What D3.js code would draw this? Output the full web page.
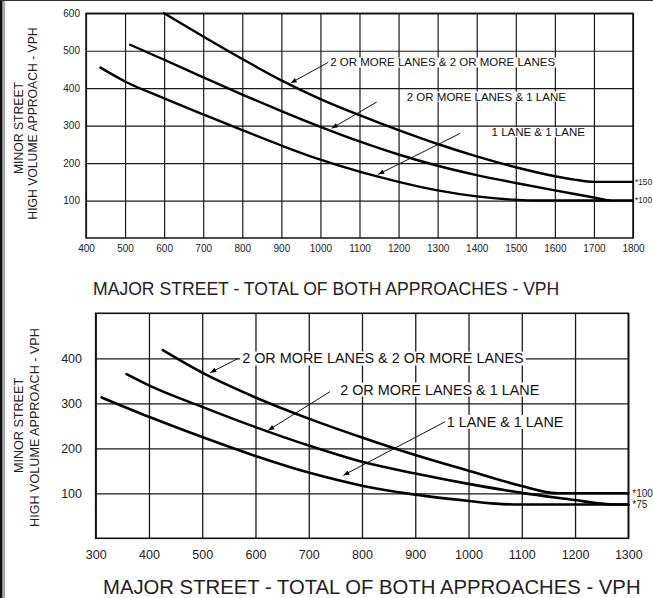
<!DOCTYPE html>
<html><head><meta charset="utf-8">
<script src="https://cdn.jsdelivr.net/npm/d3@7"></script>
<style>body{margin:0;background:#fff}svg{display:block}</style>
</head><body><svg id="c" width="653" height="598"></svg>
<script>
// ---------- DATA ----------
// Top chart (100% volumes)
const topTicksX = [400,500,600,700,800,900,1000,1100,1200,1300,1400,1500,1600,1700,1800];
const topTicksY = [100,200,300,400,500,600];
const topMajor2x2 = [600,700,800,900,1000,1100,1200,1300,1400,1500,1600,1650,1700,1800];
const topMinor2x2 = [600,538,478,421,371,328,288,251,218,189,165,156,150,150];
const topMajor2x1 = [513,600,700,800,900,1000,1100,1200,1300,1400,1500,1600,1700,1740];
const topMinor2x1 = [516,476,429,383,339,297,258,223,193,168,147,127,108,100];
const topMajor1x1 = [437,500,600,700,800,900,1000,1100,1200,1300,1400,1500,1550,1800];
const topMinor1x1 = [455,418,373,330,288,247,209,177,150,127,111,102,100,100];
const topEndLabels = ["*150","*100"];
const topEndValues = [150,100];

// Bottom chart (70% volumes)
const botTicksX = [300,400,500,600,700,800,900,1000,1100,1200,1300];
const botTicksY = [100,200,300,400];
const botMajor2x2 = [426,500,600,700,800,900,1000,1100,1150,1170,1300];
const botMinor2x2 = [418,368,313,266,224,185,150,116,102,100,100];
const botMajor2x1 = [358,400,500,600,700,800,900,1000,1100,1200,1250,1280,1300];
const botMinor2x1 = [365,340,292,247,206,170,144,121,101,85,77,75,75];
const botMajor1x1 = [311,400,500,600,700,800,900,1000,1050,1100,1300];
const botMinor1x1 = [313,270,225,183,146,117,97,83,77,75,75];
const botEndLabels = ["*100","*75"];
const botEndValues = [100,75];

const seriesNames = ["2 OR MORE LANES & 2 OR MORE LANES","2 OR MORE LANES & 1 LANE","1 LANE & 1 LANE"];
const yTitle1 = "MINOR STREET";
const yTitle2 = "HIGH VOLUME APPROACH - VPH";
const xTitle = "MAJOR STREET - TOTAL OF BOTH APPROACHES - VPH";

// ---------- DRAW ----------
const FONT = '"Liberation Sans", Arial, Helvetica, sans-serif';
const svg = d3.select("#c");
svg.append("rect").attr("width",653).attr("height",598).attr("fill","#fff");

const defs = svg.append("defs");
defs.append("marker").attr("id","arr").attr("viewBox","0 0 10 10")
  .attr("refX",10).attr("refY",5).attr("markerWidth",7).attr("markerHeight",6)
  .attr("markerUnits","userSpaceOnUse").attr("orient","auto")
  .append("path").attr("d","M0,1 L10,5 L0,9 z").attr("fill","#000");

const zip = (a,b) => a.map((v,i)=>[v,b[i]]);

function chart(o){
  const x = d3.scaleLinear().domain(o.xDom).range(o.xRange);
  const y = d3.scaleLinear().domain(o.yDom).range(o.yRange);
  const h = o.yRange[0]-o.yRange[1], w = o.xRange[1]-o.xRange[0];
  const g = svg.append("g");

  const styleAxis = s => {
    s.select(".domain").remove();
    s.attr("font-family",FONT).attr("font-size",o.tickFs);
    s.selectAll("line").attr("stroke","#1a1a1a").attr("stroke-width",o.gridW);
    s.selectAll("text").attr("fill","#222");
  };
  g.append("g").attr("transform",`translate(0,${o.yRange[0]})`)
    .call(d3.axisBottom(x).tickValues(o.xTicks).tickSize(-h).tickPadding(o.xPad).tickFormat(d3.format("d")))
    .call(styleAxis);
  g.append("g").attr("transform",`translate(${o.xRange[0]},0)`)
    .call(d3.axisLeft(y).tickValues(o.yTicks).tickSize(-w).tickPadding(o.yPad).tickFormat(d3.format("d")))
    .call(styleAxis);
  g.append("rect").attr("x",o.xRange[0]).attr("y",o.yRange[1]).attr("width",w).attr("height",h)
    .attr("fill","none").attr("stroke","#111").attr("stroke-width",o.gridW+0.3);

  // annotation labels with white background
  o.labels.forEach(l=>{
    const lg = g.append("g");
    const t = lg.append("text").attr("x",x(l.tx)).attr("y",y(l.ty)).attr("dy","0.36em")
      .attr("font-family",FONT).attr("font-size",o.labFs).attr("fill","#111").text(l.text);
    const b = t.node().getBBox();
    lg.insert("rect","text").attr("x",b.x-2).attr("y",b.y+1).attr("width",b.width+4).attr("height",b.height-2).attr("fill","#fff");
    g.append("line").attr("x1",x(l.lx)).attr("y1",y(l.ly)).attr("x2",x(l.px)).attr("y2",y(l.py))
      .attr("stroke","#111").attr("stroke-width",1).attr("marker-end","url(#arr)");
  });

  const line = d3.line().x(d=>x(d[0])).y(d=>y(d[1])).curve(d3.curveMonotoneX);
  o.series.forEach(s=>{
    g.append("path").attr("d",line(s)).attr("fill","none").attr("stroke","#000")
      .attr("stroke-width",o.curveW).attr("stroke-linecap","round");
  });

  o.endLabels.forEach((t,i)=>{
    g.append("text").attr("x",x(o.xDom[1])+o.endDx).attr("y",y(o.endValues[i])).attr("dy","0.35em")
      .attr("font-family",FONT).attr("font-size",o.endFs).attr("fill","#222").text(t);
  });

  // axis titles
  const yt = g.append("g").attr("font-family",FONT).attr("font-size",o.yTitleFs).attr("fill","#222").attr("text-anchor","middle");
  yt.append("text").attr("transform",`translate(${o.yT1[0]},${o.yT1[1]}) rotate(-90)`).text(yTitle1);
  yt.append("text").attr("transform",`translate(${o.yT2[0]},${o.yT2[1]}) rotate(-90)`).text(yTitle2);
  g.append("text").attr("x",o.xT[0]).attr("y",o.xT[1]).attr("font-family",FONT).attr("font-size",o.xTitleFs)
    .attr("fill","#222").text(xTitle);
}

chart({
  xDom:[400,1800], xRange:[86,633], yDom:[0,600], yRange:[238,13.3],
  xTicks: topTicksX, yTicks: topTicksY, xPad:6.5, yPad:6, tickFs:10, gridW:1.2,
  curveW:2.4, labFs:11.5, endDx:2, endFs:8.3,
  series:[zip(topMajor2x2,topMinor2x2), zip(topMajor2x1,topMinor2x1), zip(topMajor1x1,topMinor1x1)],
  endLabels: topEndLabels, endValues: topEndValues,
  labels:[
    {text:seriesNames[0], tx:1025, ty:469, lx:1020, ly:469, px:924, py:414},
    {text:seriesNames[1], tx:1221, ty:378, lx:1144, ly:363, px:1029, py:293},
    {text:seriesNames[2], tx:1438, ty:283, lx:1357, ly:279, px:1148, py:170}
  ],
  yTitleFs:12.2, yT1:[23.4,128], yT2:[37.4,123.5], xTitleFs:17.6, xT:[93,295]
});

chart({
  xDom:[300,1300], xRange:[95.7,628.3], yDom:[0,500], yRange:[538.3,313.3],
  xTicks: botTicksX, yTicks: botTicksY, xPad:12.3, yPad:13.7, tickFs:12.5, gridW:1.3,
  curveW:2.6, labFs:14.4, endDx:4, endFs:10,
  series:[zip(botMajor2x2,botMinor2x2), zip(botMajor2x1,botMinor2x1), zip(botMajor1x1,botMinor1x1)],
  endLabels: botEndLabels, endValues: botEndValues,
  labels:[
    {text:seriesNames[0], tx:575, ty:400, lx:568, ly:400, px:515, py:368},
    {text:seriesNames[1], tx:759, ty:331, lx:740, ly:326, px:624, py:240},
    {text:seriesNames[2], tx:959, ty:259, lx:956, ly:259, px:765, py:140}
  ],
  yTitleFs:12.6, yT1:[23,425.5], yT2:[38.5,427.5], xTitleFs:20.3, xT:[103,594]
});

// page frame (left double rule, top rule)
svg.append("rect").attr("x",0).attr("y",0).attr("width",2.5).attr("height",598).attr("fill","#111");
svg.append("rect").attr("x",3.5).attr("y",0).attr("width",1).attr("height",598).attr("fill","#555");
svg.append("rect").attr("x",0).attr("y",0).attr("width",653).attr("height",1).attr("fill","#333");
</script></body></html>
